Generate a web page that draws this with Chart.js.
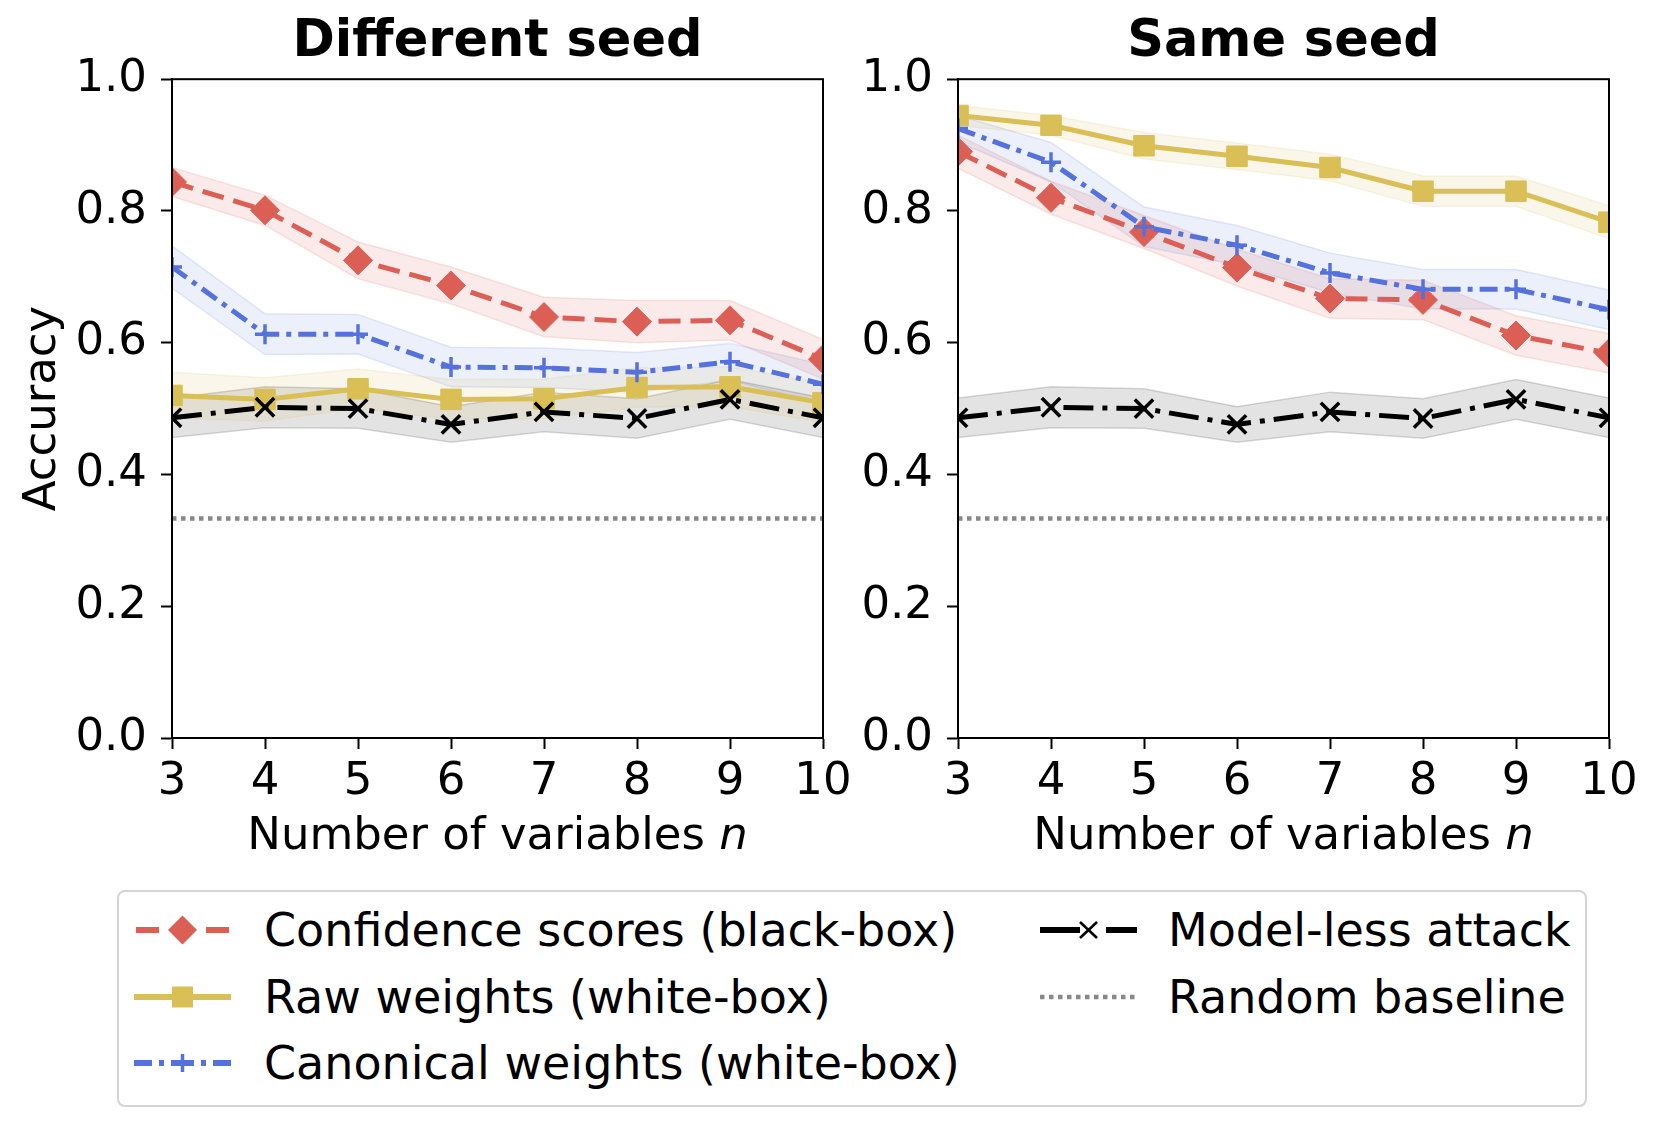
<!DOCTYPE html>
<html>
<head>
<meta charset="utf-8">
<script src="https://cdn.jsdelivr.net/npm/chart.js@4.4.0/dist/chart.umd.min.js"></script>
<style>
  body { margin: 0; background: #fff; width: 1660px; height: 1128px; position: relative; overflow: hidden; font-family: 'DejaVu Sans', sans-serif; }
  .panel { position: absolute; top: 0; }
  #legend { position: absolute; left: 117px; top: 890px; width: 1466px; height: 213px; border: 2px solid #d4d4d4; border-radius: 8px; }
  .entry { position: absolute; height: 54px; width: 580px; font-size: 46px; line-height: 54px; white-space: nowrap; color: #000; }
  .entry svg { position: absolute; left: 0; top: 12px; }
  .entry span { position: absolute; left: 130px; top: 0; }
</style>
</head>
<body>
<canvas id="left" class="panel" width="900" height="880" style="left:0"></canvas>
<canvas id="right" class="panel" width="830" height="880" style="left:830px"></canvas>

<div id="legend">
  <div class="entry" style="left:15px;top:11px">
    <svg width="97" height="30"><line x1="2" y1="15" x2="25" y2="15" stroke="#dc5f56" stroke-width="6"/><line x1="72" y1="15" x2="95" y2="15" stroke="#dc5f56" stroke-width="6"/><polygon points="48.5,0.5 63,15 48.5,29.5 34,15" fill="#dc5f56"/></svg>
    <span>Confidence scores (black-box)</span>
  </div>
  <div class="entry" style="left:15px;top:78px">
    <svg width="97" height="30"><line x1="0" y1="15" x2="97" y2="15" stroke="#d9bf55" stroke-width="6"/><rect x="38" y="4.5" width="21" height="21" fill="#d9bf55"/></svg>
    <span>Raw weights (white-box)</span>
  </div>
  <div class="entry" style="left:15px;top:144px">
    <svg width="97" height="30"><line x1="0" y1="15" x2="18" y2="15" stroke="#5572dc" stroke-width="6"/><line x1="25" y1="15" x2="30" y2="15" stroke="#5572dc" stroke-width="6"/><line x1="67" y1="15" x2="72" y2="15" stroke="#5572dc" stroke-width="6"/><line x1="79" y1="15" x2="97" y2="15" stroke="#5572dc" stroke-width="6"/><line x1="37" y1="15" x2="60" y2="15" stroke="#5572dc" stroke-width="6"/><line x1="48.5" y1="6" x2="48.5" y2="24" stroke="#5572dc" stroke-width="3.5"/></svg>
    <span>Canonical weights (white-box)</span>
  </div>
  <div class="entry" style="left:921px;top:11px">
    <svg width="97" height="30"><line x1="0" y1="15" x2="40" y2="15" stroke="#000" stroke-width="6"/><line x1="66" y1="15" x2="97" y2="15" stroke="#000" stroke-width="6"/><line x1="40" y1="7" x2="57" y2="23" stroke="#000" stroke-width="2.5"/><line x1="57" y1="7" x2="40" y2="23" stroke="#000" stroke-width="2.5"/></svg>
    <span style="left:128px">Model-less attack</span>
  </div>
  <div class="entry" style="left:921px;top:78px">
    <svg width="97" height="30"><line x1="0" y1="15" x2="97" y2="15" stroke="#888" stroke-width="4.5" stroke-dasharray="4.5,4.5"/></svg>
    <span style="left:128px">Random baseline</span>
  </div>
</div>

<script>
const nValues = [3, 4, 5, 6, 7, 8, 9, 10];
const yTicks = [0.0, 0.2, 0.4, 0.6, 0.8, 1.0];

// Different seed panel
const diffConfidence    = [0.844, 0.801, 0.725, 0.687, 0.639, 0.632, 0.634, 0.575];
const diffConfidenceErr = [0.022, 0.023, 0.028, 0.028, 0.030, 0.032, 0.030, 0.030];
const diffRaw           = [0.520, 0.514, 0.530, 0.514, 0.515, 0.532, 0.533, 0.509];
const diffRawErr        = [0.035, 0.033, 0.030, 0.030, 0.030, 0.030, 0.030, 0.030];
const diffCanonical     = [0.715, 0.613, 0.613, 0.563, 0.562, 0.555, 0.571, 0.537];
const diffCanonicalErr  = [0.032, 0.031, 0.030, 0.030, 0.030, 0.030, 0.028, 0.030];

// Same seed panel
const sameConfidence    = [0.890, 0.820, 0.768, 0.714, 0.667, 0.665, 0.611, 0.584];
const sameConfidenceErr = [0.025, 0.025, 0.025, 0.028, 0.030, 0.030, 0.030, 0.030];
const sameRaw           = [0.945, 0.930, 0.899, 0.883, 0.866, 0.830, 0.830, 0.783];
const sameRawErr        = [0.015, 0.015, 0.020, 0.020, 0.020, 0.023, 0.023, 0.025];
const sameCanonical     = [0.925, 0.874, 0.776, 0.748, 0.706, 0.681, 0.681, 0.650];
const sameCanonicalErr  = [0.020, 0.030, 0.030, 0.030, 0.030, 0.030, 0.030, 0.030];

// shared by both panels
const modelLess    = [0.486, 0.502, 0.500, 0.476, 0.495, 0.485, 0.514, 0.486];
const modelLessErr = [0.030, 0.031, 0.030, 0.027, 0.030, 0.030, 0.030, 0.030];
const randomBaseline = [0.333, 0.333, 0.333, 0.333, 0.333, 0.333, 0.333, 0.333];

const RED = '220,95,86', YELLOW = '217,191,85', BLUE = '85,114,220', BLACK = '0,0,0';
const FONT = "'DejaVu Sans'";

const pts = ys => nValues.map((n, i) => ({ x: n, y: ys[i] }));

function band(mean, err, rgb, alpha) {
  return [
    { data: pts(mean.map((v, i) => v + err[i])), borderColor: `rgba(${rgb},0.15)`, borderWidth: 1.5,
      backgroundColor: `rgba(${rgb},${alpha})`, pointRadius: 0, fill: '+1', order: 20 },
    { data: pts(mean.map((v, i) => v - err[i])), borderColor: `rgba(${rgb},0.15)`, borderWidth: 1.5,
      pointRadius: 0, fill: false, order: 20 },
  ];
}

function series(mean, rgb, dash, marker, order) {
  return {
    data: pts(mean), borderColor: `rgb(${rgb})`, borderWidth: 5, borderDash: dash, fill: false,
    pointStyle: marker.style, pointRadius: marker.radius, pointBackgroundColor: `rgb(${rgb})`,
    pointBorderColor: `rgb(${rgb})`, pointBorderWidth: marker.width, order: order,
  };
}

function datasets(conf, confErr, raw, rawErr, canon, canonErr) {
  return [
    ...band(conf, confErr, RED, 0.13),
    ...band(raw, rawErr, YELLOW, 0.12),
    ...band(canon, canonErr, BLUE, 0.11),
    ...band(modelLess, modelLessErr, BLACK, 0.11),
    series(conf, RED, [22, 10], { style: 'rectRot', radius: 14.5, width: 1 }, 4),
    series(raw, YELLOW, [], { style: 'rect', radius: 14.5, width: 1 }, 3),
    series(canon, BLUE, [18, 7, 5, 7], { style: 'cross', radius: 10, width: 3.5 }, 2),
    series(modelLess, BLACK, [30, 9, 5, 9], { style: 'crossRot', radius: 13, width: 3.5 }, 1),
    { data: pts(randomBaseline), borderColor: '#888', borderWidth: 4.5, borderDash: [4.5, 4.5],
      pointRadius: 0, fill: false, order: 5 },
  ];
}

// box around the plot area (top and right spines)
const framePlugin = {
  id: 'frame',
  afterDatasetsDraw(chart) {
    const { ctx, chartArea: a } = chart;
    ctx.save();
    ctx.strokeStyle = '#000';
    ctx.lineWidth = 2;
    ctx.strokeRect(a.left, a.top, a.right - a.left, a.bottom - a.top);
    ctx.restore();
  }
};

// x axis title with italic n
const xTitlePlugin = {
  id: 'xTitle',
  afterDraw(chart) {
    const { ctx, chartArea: a } = chart;
    const t1 = 'Number of variables ', t2 = 'n';
    ctx.save();
    ctx.fillStyle = '#000';
    ctx.textBaseline = 'alphabetic';
    ctx.textAlign = 'left';
    ctx.font = `45px ${FONT}`;
    const w1 = ctx.measureText(t1).width;
    ctx.font = `italic 45px ${FONT}`;
    const w2 = ctx.measureText(t2).width;
    const x = (a.left + a.right) / 2 - (w1 + w2) / 2;
    const y = a.bottom + 111;
    ctx.font = `45px ${FONT}`;
    ctx.fillText(t1, x, y);
    ctx.font = `italic 45px ${FONT}`;
    ctx.fillText(t2, x + w1, y);
    ctx.restore();
  }
};

function makeChart(id, title, sets, yWidth, padRight, showYTitle) {
  return new Chart(document.getElementById(id), {
    type: 'line',
    data: { datasets: sets },
    plugins: [framePlugin, xTitlePlugin],
    options: {
      responsive: false,
      animation: false,
      devicePixelRatio: 1,
      layout: { padding: { left: 0, right: padRight, top: 0, bottom: 22 } },
      plugins: {
        legend: { display: false },
        tooltip: { enabled: false },
        filler: { drawTime: 'beforeDatasetsDraw' },
        title: {
          display: true, text: title, fullSize: false, color: '#000',
          font: { family: FONT, size: 51, weight: 'bold' }, padding: { top: 12, bottom: 6 }
        }
      },
      scales: {
        x: {
          type: 'linear', min: 3, max: 10,
          afterBuildTicks: s => { s.ticks = nValues.map(v => ({ value: v })); },
          afterFit: s => { s.height = 120; },
          grid: { drawOnChartArea: false, tickLength: 11, tickWidth: 2, tickColor: '#000' },
          border: { color: '#000', width: 2 },
          ticks: { color: '#000', font: { family: FONT, size: 45 }, padding: 6, autoSkip: false, maxRotation: 0 }
        },
        y: {
          min: 0, max: 1,
          afterBuildTicks: s => { s.ticks = yTicks.map(v => ({ value: v })); },
          afterFit: s => { s.width = yWidth; },
          grid: { drawOnChartArea: false, tickLength: 11, tickWidth: 2, tickColor: '#000' },
          border: { color: '#000', width: 2 },
          ticks: { color: '#000', font: { family: FONT, size: 45 }, padding: 14, callback: v => v.toFixed(1) },
          title: { display: showYTitle, text: 'Accuracy', color: '#000', font: { family: FONT, size: 45 }, padding: { top: 16 } }
        }
      }
    }
  });
}

makeChart('left', 'Different seed',
  datasets(diffConfidence, diffConfidenceErr, diffRaw, diffRawErr, diffCanonical, diffCanonicalErr),
  172, 77, true);
makeChart('right', 'Same seed',
  datasets(sameConfidence, sameConfidenceErr, sameRaw, sameRawErr, sameCanonical, sameCanonicalErr),
  128, 51, false);
</script>
</body>
</html>
